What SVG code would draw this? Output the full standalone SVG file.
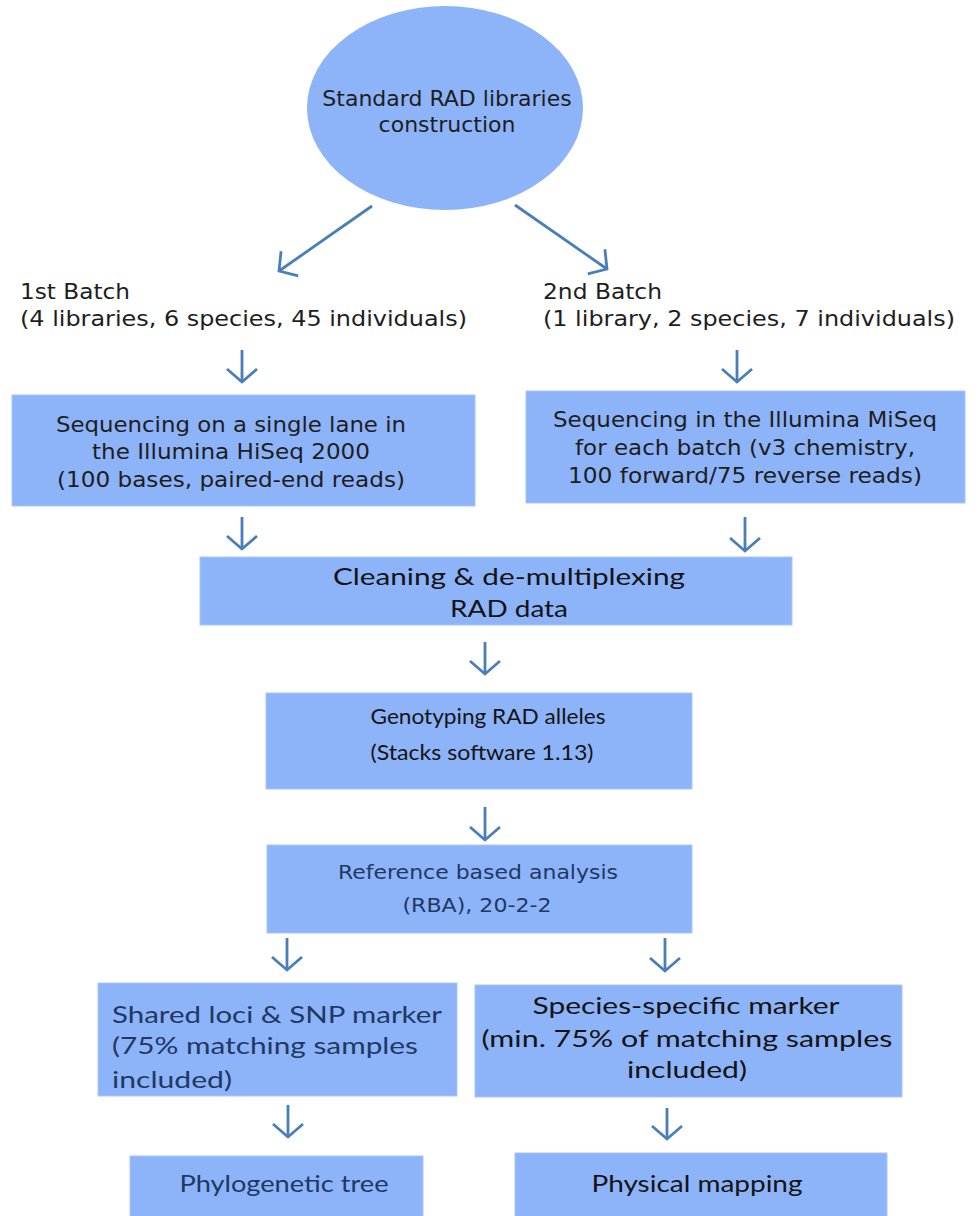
<svg xmlns="http://www.w3.org/2000/svg" width="980" height="1216" viewBox="0 0 980 1216">
<defs>
<style>
.box{fill:#8DB3F9;stroke:#A9C6FB;stroke-width:1}
.v{font-family:"DejaVu Sans","Verdana",sans-serif;fill:#1e1e1e}
.c{font-family:"Lato","Carlito",sans-serif;fill:#141414}
.navy{fill:#1F3864}
.m{text-anchor:middle}
.arr{stroke:#4A7EBB;stroke-width:2.8;fill:none;marker-end:url(#head)}
</style>
<marker id="head" markerUnits="userSpaceOnUse" markerWidth="40" markerHeight="40" viewBox="-20 -20 40 40" refX="0" refY="0" orient="auto" overflow="visible">
<path d="M-13,-15 L0,0 L-13,15" fill="none" stroke="#4A7EBB" stroke-width="2.8" stroke-linejoin="miter"/>
</marker>
</defs>
<rect width="980" height="1216" fill="#ffffff"/>

<g id="connectors">
<line class="arr" x1="372" y1="206" x2="279" y2="271"/>
<line class="arr" x1="515" y1="205" x2="607" y2="269"/>
<line class="arr" x1="242" y1="350" x2="242" y2="382"/>
<line class="arr" x1="737" y1="350" x2="737" y2="382"/>
<line class="arr" x1="242" y1="517" x2="242" y2="549"/>
<line class="arr" x1="745" y1="517" x2="745" y2="551"/>
<line class="arr" x1="485" y1="642" x2="485" y2="674"/>
<line class="arr" x1="485" y1="807" x2="485" y2="840"/>
<line class="arr" x1="287" y1="938" x2="287" y2="970"/>
<line class="arr" x1="665" y1="938" x2="665" y2="971"/>
<line class="arr" x1="288" y1="1105" x2="288" y2="1137"/>
<line class="arr" x1="667" y1="1108" x2="667" y2="1139"/>
</g>

<g id="start">
<ellipse cx="445" cy="108" rx="138" ry="102" fill="#8DB3F9"/>
<text class="v m" x="447" y="106" font-size="22">Standard RAD libraries</text>
<text class="v m" x="447" y="132" font-size="22">construction</text>
</g>

<g id="batch1">
<text class="v" x="20" y="299" font-size="21" textLength="110" lengthAdjust="spacingAndGlyphs">1st Batch</text>
<text class="v" x="20" y="326" font-size="21" textLength="447" lengthAdjust="spacingAndGlyphs">(4 libraries, 6 species, 45 individuals)</text>
</g>

<g id="batch2">
<text class="v" x="543" y="299" font-size="21" textLength="119" lengthAdjust="spacingAndGlyphs">2nd Batch</text>
<text class="v" x="543" y="326" font-size="21" textLength="412" lengthAdjust="spacingAndGlyphs">(1 library, 2 species, 7 individuals)</text>
</g>

<g id="hiseq">
<rect class="box" x="12" y="395" width="463" height="111"/>
<text class="v m" x="231" y="432" font-size="21" textLength="350" lengthAdjust="spacingAndGlyphs">Sequencing on a single lane in</text>
<text class="v m" x="231" y="459" font-size="21" textLength="278" lengthAdjust="spacingAndGlyphs">the Illumina HiSeq 2000</text>
<text class="v m" x="231" y="487" font-size="21" textLength="348" lengthAdjust="spacingAndGlyphs">(100 bases, paired-end reads)</text>
</g>

<g id="miseq">
<rect class="box" x="526" y="391" width="439" height="112"/>
<text class="v m" x="745" y="427" font-size="21" textLength="384" lengthAdjust="spacingAndGlyphs">Sequencing in the Illumina MiSeq</text>
<text class="v m" x="745" y="455" font-size="21" textLength="340" lengthAdjust="spacingAndGlyphs">for each batch (v3 chemistry,</text>
<text class="v m" x="745" y="483" font-size="21" textLength="354" lengthAdjust="spacingAndGlyphs">100 forward/75 reverse reads)</text>
</g>

<g id="cleaning">
<rect class="box" x="200" y="557" width="592" height="68"/>
<text class="c m" x="509" y="585" font-size="23" textLength="352" lengthAdjust="spacingAndGlyphs">Cleaning &amp; de-multiplexing</text>
<text class="c m" x="509" y="617" font-size="23" textLength="118" lengthAdjust="spacingAndGlyphs">RAD data</text>
</g>

<g id="genotyping">
<rect class="box" x="266" y="693" width="426" height="96"/>
<text class="c m" x="488" y="724" font-size="21" textLength="235" lengthAdjust="spacingAndGlyphs">Genotyping RAD alleles</text>
<text class="c m" x="482" y="760" font-size="21" textLength="223" lengthAdjust="spacingAndGlyphs">(Stacks software 1.13)</text>
</g>

<g id="rba">
<rect class="box" x="267" y="845" width="425" height="88"/>
<text class="v m navy" x="478" y="879" font-size="19" textLength="280" lengthAdjust="spacingAndGlyphs">Reference based analysis</text>
<text class="v m navy" x="477" y="912" font-size="19" textLength="149" lengthAdjust="spacingAndGlyphs">(RBA), 20-2-2</text>
</g>

<g id="shared">
<rect class="box" x="98" y="983" width="359" height="113"/>
<text class="c navy" x="112" y="1023" font-size="23" textLength="330" lengthAdjust="spacingAndGlyphs">Shared loci &amp; SNP marker</text>
<text class="c navy" x="112" y="1054" font-size="23" textLength="306" lengthAdjust="spacingAndGlyphs">(75% matching samples</text>
<text class="c navy" x="112" y="1088" font-size="23" textLength="120" lengthAdjust="spacingAndGlyphs">included)</text>
</g>

<g id="species">
<rect class="box" x="475" y="985" width="427" height="112"/>
<text class="c m" x="686" y="1014" font-size="23" textLength="307" lengthAdjust="spacingAndGlyphs">Species-specific marker</text>
<text class="c m" x="687" y="1047" font-size="23" textLength="411" lengthAdjust="spacingAndGlyphs">(min. 75% of matching samples</text>
<text class="c m" x="687" y="1078" font-size="23" textLength="120" lengthAdjust="spacingAndGlyphs">included)</text>
</g>

<g id="phylo">
<rect class="box" x="130" y="1156" width="293" height="62"/>
<text class="c m navy" x="284" y="1192" font-size="24" textLength="209" lengthAdjust="spacingAndGlyphs">Phylogenetic tree</text>
</g>

<g id="physical">
<rect class="box" x="515" y="1153" width="372" height="65"/>
<text class="c m" x="697" y="1192" font-size="24" textLength="211" lengthAdjust="spacingAndGlyphs">Physical mapping</text>
</g>
</svg>
